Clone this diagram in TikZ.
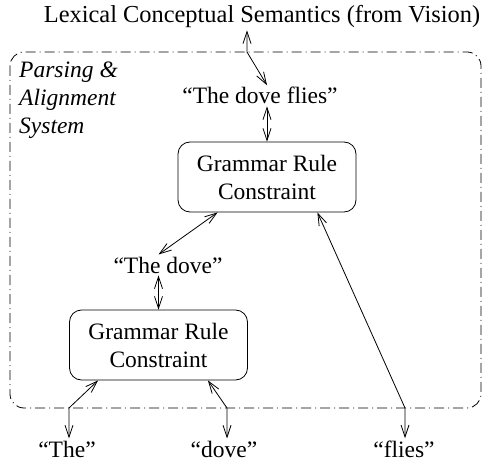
\documentclass[tikz,border=0pt]{standalone}
\usepackage{fontspec}
\setmainfont{Liberation Serif}
\usetikzlibrary{arrows.meta}
\newcommand\diagsize{\fontsize{23.5}{28}\selectfont}

\begin{document}
\begin{tikzpicture}[x=1pt,y=-1pt,
    >={Straight Barb[length=12pt,width=8pt]},
    every node/.style={font=\diagsize, inner sep=2pt},
    rulebox/.style={draw, line width=0.8pt, rounded corners=12pt, align=center,
      minimum width=178pt, minimum height=70pt},
    word/.style={anchor=base},
    link/.style={<->, line width=0.8pt}]
        \useasboundingbox (0,0) rectangle (482,465);
        \draw[line width=0.8pt, rounded corners=14pt,
          dash pattern=on 10pt off 4pt on 1pt off 4pt] (10,52) rectangle (481,408);
        \node[word, font=\fontsize{24.4}{28}\selectfont] (lcs) at (262,23) {Lexical Conceptual Semantics (from Vision)};
        \node[anchor=north west, align=left, font=\diagsize\itshape] (pas) at (17,60) {Parsing \&\\Alignment\\System};
        \node[word] (tdf) at (260,104) {``The dove flies''};
        \node[rulebox] (top) at (267,177) {Grammar Rule\\Constraint};
        \node[word] (tdv) at (168,273) {``The dove''};
        \node[rulebox] (bot) at (158.5,345) {Grammar Rule\\Constraint};
        \node[word] (the) at (67,457) {``The''};
        \node[word] (dove) at (224,457) {``dove''};
        \node[word] (flies) at (404,457) {``flies''};
        \coordinate (lcsbend) at (247,52);
        \coordinate (thebend) at (69,408);
        \coordinate (dovebend) at (227,408);
        \coordinate (fliesbend) at (405,408);
        \draw[link] (lcs.south -| lcsbend) -- (lcsbend) -- (tdf.north -| top.north);
        \draw[link] (tdf.south -| top.north) -- (top.north);
        \draw[link] ([xshift=40pt]top.south west) -- (tdv.north -| bot.north);
        \draw[link] (tdv.south -| bot.north) -- (bot.north);
        \draw[link] ([xshift=29pt]bot.south west) -- (thebend) -- (the.north -| thebend);
        \draw[link] ([xshift=-40pt]bot.south east) -- (dovebend) -- (dove.north -| dovebend);
        \draw[link] ([xshift=-39pt]top.south east) -- (fliesbend) -- (flies.north -| fliesbend);
    \end{tikzpicture}
\end{document}
